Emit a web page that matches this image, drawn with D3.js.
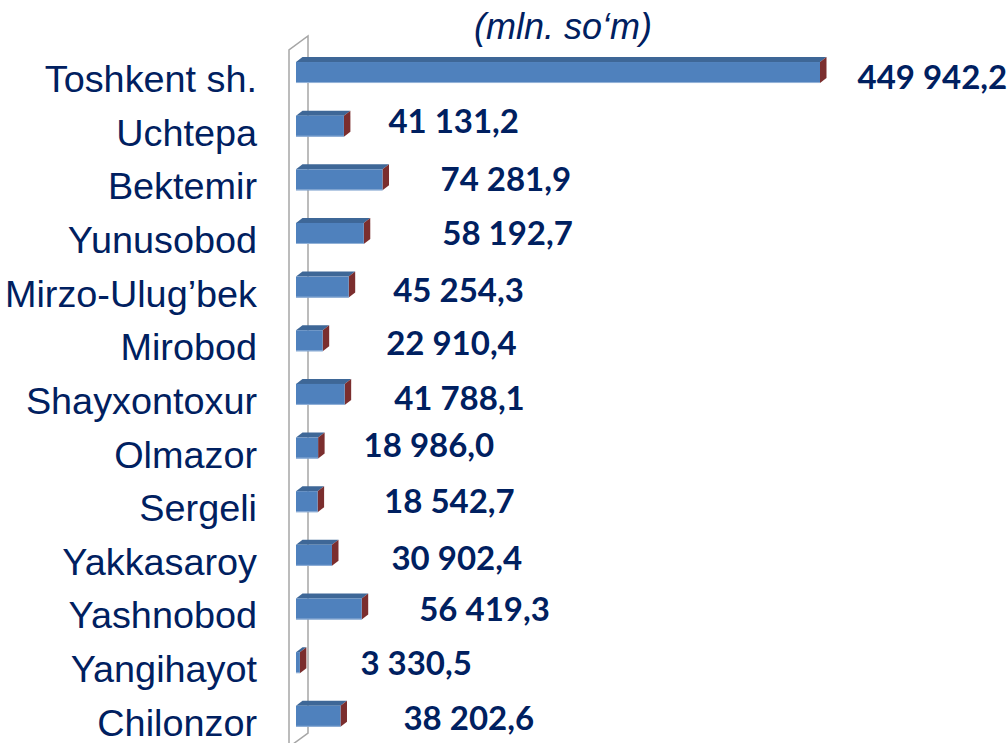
<!DOCTYPE html>
<html>
<head>
<meta charset="utf-8">
<script src="https://cdn.jsdelivr.net/npm/d3@7/dist/d3.min.js"></script>
<style>
  html, body { margin: 0; padding: 0; background: #ffffff; }
  svg { display: block; }
</style>
</head>
<body>
<svg id="chart" width="1007" height="743"></svg>
<script>
// ---- data ----
const categories = ["Toshkent sh.", "Uchtepa", "Bektemir", "Yunusobod", "Mirzo-Ulug\u2019bek", "Mirobod",
  "Shayxontoxur", "Olmazor", "Sergeli", "Yakkasaroy", "Yashnobod", "Yangihayot", "Chilonzor"];
const values = [449942.2, 41131.2, 74281.9, 58192.7, 45254.3, 22910.4,
  41788.1, 18986.0, 18542.7, 30902.4, 56419.3, 3330.5, 38202.6];
const subtitle = "(mln. so\u2018m)";

// ---- layout (label placement as in the original) ----
const labelGap = [31, 38, 51.5, 72, 38, 57, 43, 39, 60, 53, 51, 54, 56.5];
const labelShift = [4, -5, -1, 0, 2.5, 2.5, 3.5, -3.5, -0.5, 2.5, 0, 0, 1.5];

const svg = d3.select("#chart");
const navy = "#002060";

const x = d3.scaleLinear().domain([0, 449942.2]).range([296, 820]);
const y = d3.scaleBand().domain(categories).range([45.7, 743.1]).padding(0);

const barH = 21, dX = 6.5, dY = 5;
const center = c => y(c) + y.bandwidth() / 2;

const fmt = d3.formatLocale({ decimal: ",", thousands: " ", grouping: [3], currency: ["", ""] }).format(",.1f");

// ---- wall (3D side wall of the category axis) ----
const wx = x(0) - 7, wDepthX = 19, wDepthY = 14;
const wTop = 50, wBot = 747;
const wall = svg.append("g").attr("fill", "none").attr("stroke", "#a6a6a6").attr("stroke-width", 1.5);
wall.append("path").attr("d", `M${wx},${wBot + 10} L${wx},${wTop} L${wx + wDepthX},${wTop - wDepthY} L${wx + wDepthX},${wBot - wDepthY} L${wx},${wBot}`);

// ---- bars ----
const data = categories.map((c, i) => ({ c, v: values[i], i }));
const bars = svg.append("g").selectAll("g").data(data).join("g");

bars.each(function (d) {
  const g = d3.select(this);
  const x0 = x(0), x1 = x(d.v);
  const yc = center(d.c);
  const top = yc - barH / 2, bot = yc + barH / 2;
  // top face
  g.append("path")
    .attr("d", `M${x0},${top} L${x0 + dX},${top - dY} L${x1 + dX},${top - dY} L${x1},${top} Z`)
    .attr("fill", "#3e6797");
  // side face
  g.append("path")
    .attr("d", `M${x1},${top} L${x1 + dX},${top - dY} L${x1 + dX},${bot - dY} L${x1},${bot} Z`)
    .attr("fill", "#7b2e2e");
  // front face
  g.append("rect")
    .attr("x", x0).attr("y", top)
    .attr("width", Math.max(0, x1 - x0)).attr("height", barH)
    .attr("fill", "#4f81bd");
  g.append("line")
    .attr("x1", x0).attr("x2", x1).attr("y1", bot - 0.5).attr("y2", bot - 0.5)
    .attr("stroke", "#95b3d9").attr("stroke-width", 1);
});

// ---- category labels ----
svg.append("g").selectAll("text").data(data).join("text")
  .attr("x", 257)
  .attr("y", d => center(d.c) + 19.5)
  .attr("text-anchor", "end")
  .attr("font-family", "'Liberation Sans', Arial, sans-serif")
  .attr("font-size", 37.8)
  .attr("fill", navy)
  .text(d => d.c);

// ---- value labels ----
svg.append("g").selectAll("text").data(data).join("text")
  .attr("x", d => x(d.v) + dX + labelGap[d.i])
  .attr("y", d => center(d.c) + labelShift[d.i] + 12)
  .attr("text-anchor", "start")
  .attr("font-family", "Lato, 'Open Sans', sans-serif")
  .attr("font-weight", "bold")
  .attr("font-size", 33)
  .attr("fill", navy)
  .text(d => fmt(d.v));

// ---- subtitle ----
svg.append("text")
  .attr("x", 563).attr("y", 39)
  .attr("text-anchor", "middle")
  .attr("font-family", "'Liberation Sans', Arial, sans-serif")
  .attr("font-style", "italic")
  .attr("font-size", 36)
  .attr("fill", navy)
  .text(subtitle);
</script>
</body>
</html>
